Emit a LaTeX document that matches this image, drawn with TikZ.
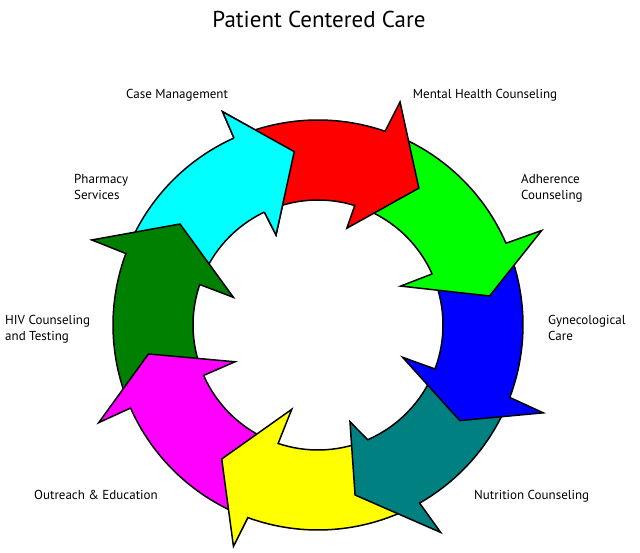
\documentclass[tikz,border=0pt]{standalone}
\usepackage{fontspec}
\setmainfont{PT Sans}
\definecolor{cCyan}{RGB}{0,255,255}
\definecolor{cRed}{RGB}{255,0,0}
\definecolor{cGreen}{RGB}{0,255,0}
\definecolor{cBlue}{RGB}{0,0,255}
\definecolor{cTeal}{RGB}{0,128,128}
\definecolor{cYellow}{RGB}{255,255,0}
\definecolor{cMagenta}{RGB}{255,0,255}
\definecolor{cDkGreen}{RGB}{0,128,0}
\tikzset{
  ringarrow/.style={draw=black, line width=1.5pt, line join=miter},
  lbl/.style={anchor=base west, inner sep=0pt, font=\fontsize{13}{16}\selectfont, align=left},
  ttl/.style={anchor=base, inner sep=0pt, font=\fontsize{23}{26}\selectfont}
}
\begin{document}
\begin{tikzpicture}[x=1pt,y=1pt]
\useasboundingbox (0,0) rectangle (640,553);
\def\Ro{205}
\def\Ri{125}
\begin{scope}[shift={(318,228)}]
% colour / start outer / start inner / notch outer / notch inner / barb outer angle / radius / barb inner angle / radius / tip angle / radius
\foreach \nm/\col/\so/\si/\ao/\ai/\abo/\rbo/\abi/\rbi/\t/\rt in {
  cy/cCyan/157.6/159.1/114.2/115.4/114.1/233.6/115/99.3/97.8/175,
  dg/cDkGreen/201.9/201.8/159.6/161.1/159.4/241.7/161.9/89/143.8/171,
  mg/cMagenta/-112/-110.6/-156.1/-156.2/-156/240/-156.1/90.8/-170.3/172,
  ye/cYellow/-62.3/-68.6/-110/-108.6/-110.9/237/-107.3/88.3/-125.7/165,
  te/cTeal/-22.7/-22.6/-60.3/-66.6/-59.4/241/-71.7/101.8/-77.7/174,
  bl/cBlue/21.5/22.1/-20.7/-20.6/-21.3/241.8/-20.9/90.6/-34/171,
  gr/cGreen/68.9/70.9/23.5/24.1/22.9/242.8/25.2/91.4/9.6/174,
  rd/cRed/112.2/113.4/70.9/72.9/69.8/237.6/73.4/101/53.6/170}
{
  \path[ringarrow, fill=\col] (\so:\Ro) coordinate (\nm-s)
    arc[start angle=\so, end angle=\ao, radius=\Ro] coordinate (\nm-no)
    -- (\abo:\rbo) coordinate (\nm-bo)
    -- (\t:\rt) coordinate (\nm-tip)
    -- (\abi:\rbi) coordinate (\nm-bi)
    -- (\ai:\Ri) coordinate (\nm-ni)
    arc[start angle=\ai, end angle=\si, radius=\Ri] -- cycle;
}
% cyan arrowhead lies over the tail of the red arrow
\fill[cCyan] (cy-ni) -- (cy-bi) -- (cy-tip) -- (cy-bo) -- (cy-no) -- cycle;
\draw[ringarrow] (cy-ni) -- (cy-bi) -- (cy-tip) -- (cy-bo) -- (cy-no);
\end{scope}
\node[ttl] (title) at (319,525.7) {Patient Centered Care};
\node[lbl] (case) at (126,454.7) {Case Management};
\node[lbl] (mental) at (412.7,454.7) {Mental Health Counseling};
\node[lbl] (pharm) at (74,353.5) {Pharmacy\\Services};
\node[lbl] (adher) at (521,353.5) {Adherence\\Counseling};
\node[lbl] (hiv) at (5,212) {HIV Counseling\\and Testing};
\node[lbl] (gyn) at (548,212) {Gynecological\\Care};
\node[lbl] (out) at (34,53) {Outreach \& Education};
\node[lbl] (nutr) at (474,53) {Nutrition Counseling};
\end{tikzpicture}
\end{document}
